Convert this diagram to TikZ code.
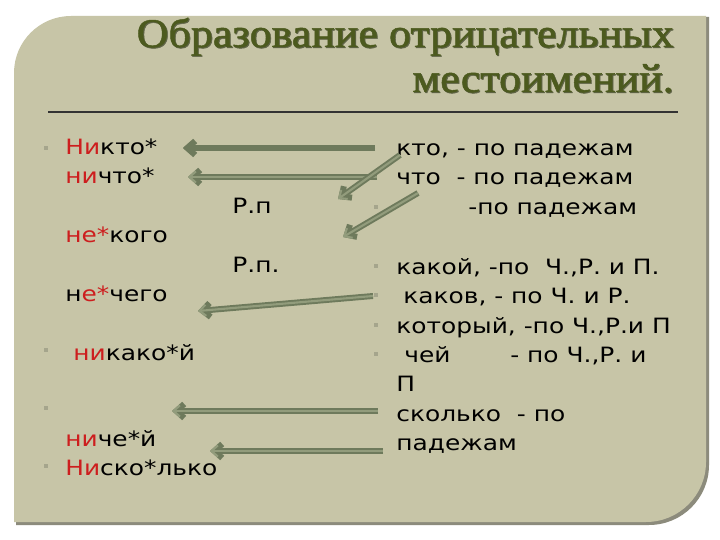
\documentclass[tikz,border=0pt]{standalone}
\usepackage{fontspec}
\setmainfont{DejaVu Sans}[FakeStretch=1.18]
\newfontfamily\titlefont{Liberation Serif}[FakeStretch=1.08,FakeBold=1.2]
\usetikzlibrary{arrows.meta}
\definecolor{panel}{RGB}{199,197,167}
\definecolor{panelshadow}{RGB}{140,139,124}
\definecolor{titlegreen}{RGB}{76,90,30}
\definecolor{titleglow}{RGB}{95,100,70}
\definecolor{nired}{RGB}{205,30,30}
\definecolor{arrowdark}{RGB}{110,122,92}
\definecolor{arrowlight}{RGB}{146,156,124}
\definecolor{bulletgray}{RGB}{165,165,140}
\newcommand{\redpart}[1]{\textcolor{nired}{#1}}
\begin{document}
\begin{tikzpicture}
		[x=0.02cm,y=-0.02cm,
		txt/.style={anchor=base west,inner sep=0pt,font=\fontsize{12}{14}\selectfont},
		ttl/.style={anchor=base east,inner sep=0pt,font=\titlefont\fontsize{23.2}{26}\selectfont},
		dot/.style={rectangle,fill=bulletgray,minimum size=2.4pt,inner sep=0pt},
		link/.style={draw=arrowlight,line width=1.2pt,-{Straight Barb[length=3.6pt,width=6.4pt]},
			preaction={draw=arrowdark,line width=3.4pt,-{Straight Barb[length=4.4pt,width=8pt]}}},
		solidlink/.style={link,draw=arrowdark}]
		\useasboundingbox (0,0) rectangle (720,540);
		\fill[white] (0,0) rectangle (720,540);

		% the panel with two rounded corners and its shadow
		\fill[panelshadow] (16,525) -- (16,74) arc[start angle=180,end angle=270,radius=57] -- (709,17) -- (709,465) arc[start angle=0,end angle=90,radius=60] -- cycle;
		\fill[panel] (14,522) -- (14,73) arc[start angle=180,end angle=270,radius=57] -- (706,16) -- (706,462) arc[start angle=0,end angle=90,radius=60] -- cycle;

		% title
		\node[ttl,text=titleglow] at (675,48) {Образование отрицательных};
		\node[ttl,text=titlegreen] (title1) at (674,47) {Образование отрицательных};
		\node[ttl,text=titleglow] at (675,93) {местоимений.};
		\node[ttl,text=titlegreen] (title2) at (674,92) {местоимений.};
		\draw[black!80,line width=0.6pt] (48,112) -- (678,112);

		% left column
		\node[txt] (nikto) at (65,155) {\redpart{Ни}кто*};
		\node[txt] (nichto) at (65,184) {\redpart{ни}что*};
		\node[txt] (rp1) at (232,214) {Р.п};
		\node[txt] (nekogo) at (65,243) {\redpart{не*}кого};
		\node[txt] (rp2) at (232,273) {Р.п.};
		\node[txt] (nechego) at (65,302) {н\redpart{е*}чего};
		\node[txt] (nikakoy) at (73,360) {\redpart{ни}како*й};
		\node[txt] (nichey) at (65,446) {\redpart{ни}че*й};
		\node[txt] (niskolko) at (65,475) {\redpart{Ни}ско*лько};
		\foreach \y [count=\i] in {148,350,408,466}
			\node[dot] (ldot\i) at (46,\y) {};

		% right column
		\node[txt] (kto) at (396,156) {кто, - по падежам};
		\node[txt] (chto) at (396,185) {что\ \ - по падежам};
		\node[txt] (popad) at (468,215) {-по падежам};
		\node[txt] (kakoy) at (396,275) {какой, -по\ \ Ч.,Р. и П.};
		\node[txt] (kakov) at (403,304) {каков, - по Ч. и Р.};
		\node[txt] (kotory) at (396,334) {который, -по Ч.,Р.и П};
		\node[txt] (chey) at (404,363) {чей\hspace{34pt}- по Ч.,Р. и};
		\node[txt] (pline) at (396,392) {П};
		\node[txt] (skolko) at (396,421) {сколько\ \ - по};
		\node[txt] (padezham) at (396,450) {падежам};
		\foreach \y [count=\i] in {207,266,295,325,354}
			\node[dot] (rdot\i) at (376,\y) {};

		% arrow ends
		\coordinate (fromkto) at (375,148);
		\coordinate (tonikto) at (183,148);
		\coordinate (fromchto) at (377,177);
		\coordinate (tonichto) at (188,177);
		\coordinate (fromkto2) at (400,155);
		\coordinate (torp1) at (338,199);
		\coordinate (fromchto2) at (418,193);
		\coordinate (torp2) at (343,237);
		\coordinate (fromkakoy) at (373,296);
		\coordinate (tonechego) at (198,311);
		\coordinate (fromchey) at (378,411);
		\coordinate (tonikakoy) at (172,411);
		\coordinate (fromskolko) at (383,451);
		\coordinate (tonichey) at (210,451);

		%draw the arrows
		\draw[solidlink] (fromkto) -- (tonikto);
		\draw[link] (fromchto) -- (tonichto);
		\draw[link] (fromkto2) -- (torp1);
		\draw[link] (fromchto2) -- (torp2);
		\draw[link] (fromkakoy) -- (tonechego);
		\draw[link] (fromchey) -- (tonikakoy);
		\draw[link] (fromskolko) -- (tonichey);
	\end{tikzpicture}
\end{document}
